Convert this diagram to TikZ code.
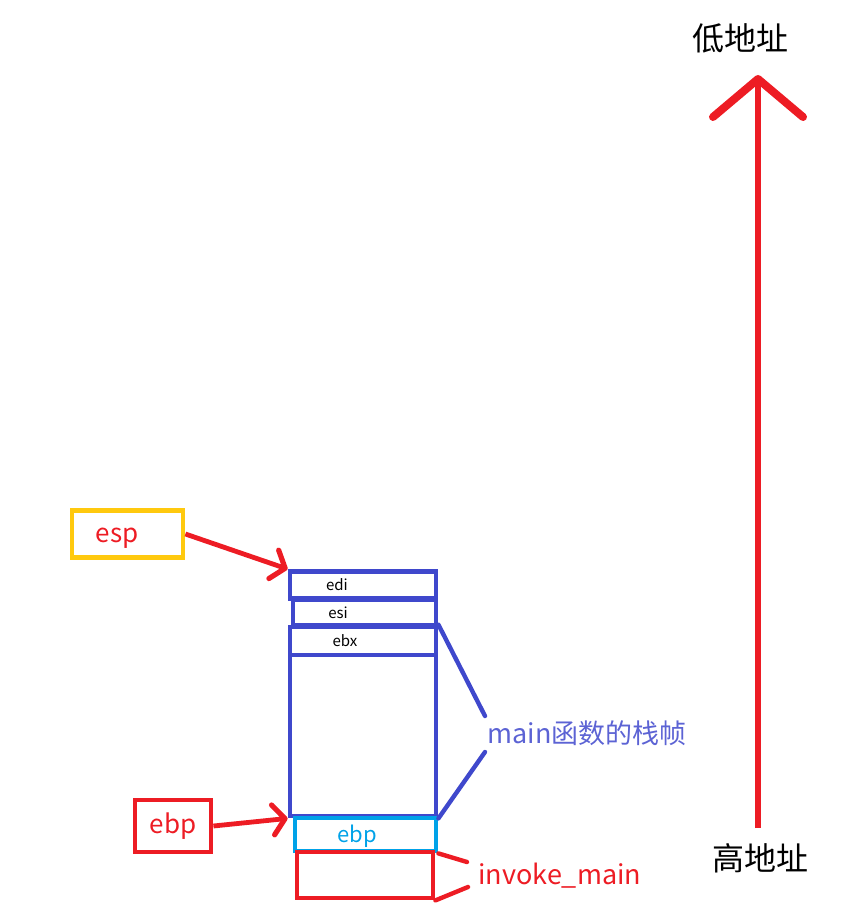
\documentclass[tikz,border=0pt]{standalone}
\usepackage{fontspec}
\setmainfont{Noto Sans CJK SC}
\usetikzlibrary{arrows.meta}
\definecolor{stkblue}{HTML}{3F48CC}
\definecolor{stkred}{HTML}{ED1C24}
\definecolor{stkyellow}{HTML}{FFC90E}
\definecolor{stkcyan}{HTML}{00A2E8}
\newcommand{\fsz}[1]{\fontsize{#1}{#1}\selectfont}
\tikzset{
  slot/.style={draw=stkblue, line width=2.4pt, inner sep=0pt},
  regbox/.style={line width=2.4pt, inner sep=0pt},
  reglab/.style={font=\fsz{7.5}, text=black, inner sep=0pt},
  ptr/.style={draw=stkred, line width=2.4pt,
    -{Straight Barb[length=6pt, width=15pt, line width=2.6pt, round]}},
  brc/.style={line width=2.2pt, line cap=round},
  addr/.style={font=\fsz{16}, text=black, inner sep=0pt},
}

\begin{document}
\begin{tikzpicture}[x=0.5pt, y=-0.5pt]
    \useasboundingbox (0,0) rectangle (848,915);
    % stack slots of main
    \node[slot, minimum width=73pt, minimum height=13.5pt] (edi) at (363,585) {};
    \node[slot, minimum width=71.5pt, minimum height=13pt] (esi) at (364.5,612.5) {};
    \node[slot, minimum width=73pt, minimum height=94.5pt] (frame) at (363,721.5) {};
    \node[slot, minimum width=73pt, minimum height=14pt] (ebx) at (363,641) {};
    \node[reglab] (tedi) at (337,585) {edi};
    \node[reglab] (tesi) at (338,613) {esi};
    \node[reglab] (tebx) at (345,641) {ebx};
    % saved ebp and the caller
    \node[regbox, draw=stkcyan, minimum width=70.5pt, minimum height=16.5pt] (ebpslot) at (365.5,834.5) {};
    \node[font=\fsz{11}, text=stkcyan, inner sep=0pt] (tebp) at (357,836) {ebp};
    \node[regbox, draw=stkred, minimum width=68pt, minimum height=23pt] (invoke) at (365,875) {};
    % registers
    \node[regbox, draw=stkyellow, minimum width=55.5pt, minimum height=23.5pt] (espbox) at (127.5,534) {};
    \node[font=\fsz{13}, text=stkred, inner sep=0pt] (tesp) at (117,538) {esp};
    \node[regbox, draw=stkred, minimum width=38pt, minimum height=26pt,
      font=\fsz{13}, text=stkred] (ebpbox) at (173,826) {ebp};
    \draw[ptr] (espbox.east) -- (edi.north west);
    \draw[ptr] (ebpbox.east) -- (frame.south west);
    % labels on the right
    \node[anchor=west, font=\fsz{13.5}, text=stkblue!85!white, inner sep=0pt] (mainlbl) at (487,733) {main函数的栈帧};
    \coordinate (ftop) at (485,716);
    \coordinate (fbot) at (485,752);
    \draw[brc, stkblue] (frame.north east) -- (ftop);
    \draw[brc, stkblue] (fbot) -- (frame.south east);
    \node[anchor=west, font=\fsz{13.5}, text=stkred, inner sep=0pt] (invlbl) at (478,876) {invoke\_main};
    \coordinate (itop) at (467,862);
    \coordinate (ibot) at (468,887);
    \draw[brc, stkred] (ebpslot.south east) -- (itop);
    \draw[brc, stkred] (ibot) -- (invoke.south east);
    % address direction
    \node[addr] (low) at (740,38) {低地址};
    \node[addr] (high) at (760,858) {高地址};
    \coordinate (abot) at (758,828);
    \coordinate (atop) at (758,75);
    \draw[draw=stkred, line width=2.8pt,
      -{Straight Barb[length=19pt, width=45pt, line width=4pt, round]}] (abot) -- (atop);
  \end{tikzpicture}
\end{document}
